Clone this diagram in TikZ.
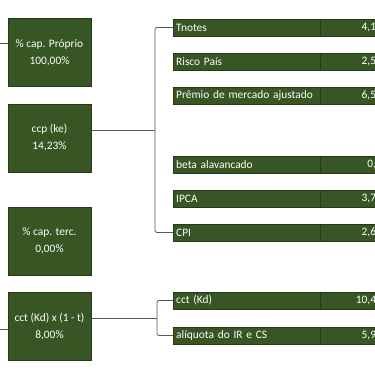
\documentclass[tikz,border=0pt]{standalone}
\usepackage{fontspec}
\setmainfont{Carlito}
\usetikzlibrary{positioning}
\definecolor{cellgreen}{HTML}{375623}
\definecolor{cellline}{HTML}{26391A}

\begin{document}
\begin{tikzpicture}[x=1pt, y=-1pt,
  bigbox/.style={draw=cellline, fill=cellgreen, text=white, minimum width=83pt,
    minimum height=68pt, align=center, font=\fontsize{11.4}{17}\selectfont},
  namecell/.style={draw=cellline, fill=cellgreen, text=white, anchor=west,
    minimum width=147pt, minimum height=17pt, text width=141pt, inner xsep=3pt,
    font=\fontsize{11.4}{12}\selectfont},
  valcell/.style={draw=cellline, fill=cellgreen, text=white, minimum width=57pt,
    minimum height=17pt, text width=54pt, align=right, inner xsep=1pt,
    font=\fontsize{11.4}{12}\selectfont},
  link/.style={draw=black!65, line width=0.8pt, rounded corners=2pt}
]
\useasboundingbox (0,0) rectangle (375,375);
\clip (0,0) rectangle (375,375);

% left column
\node[bigbox] (proprio) at (49.5,52.5) {\% cap. Próprio\\100,00\%};
\node[bigbox] (ke) at (49.5,138) {ccp (ke)\\14,23\%};
\node[bigbox] (terc) at (49.5,241) {\% cap. terc.\\0,00\%};
\node[bigbox] (kd) at (49.5,326.5) {cct (Kd) x (1 - t)\\8,00\%};

% inputs for ke
\node[namecell] (tnotes) at (173,27.5) {Tnotes};
\node[valcell, right=0pt of tnotes] (tnotesv) {4,1};
\node[namecell] (risco) at (173,61.5) {Risco País};
\node[valcell, right=0pt of risco] (riscov) {2,5};
\node[namecell] (premio) at (173,95.5) {Prêmio de mercado ajustado};
\node[valcell, right=0pt of premio] (premiov) {6,5};
\node[namecell] (beta) at (173,164.5) {beta alavancado};
\node[valcell, right=0pt of beta] (betav) {0,};
\node[namecell] (ipca) at (173,198.5) {IPCA};
\node[valcell, right=0pt of ipca] (ipcav) {3,7};
\node[namecell] (cpi) at (173,232.5) {CPI};
\node[valcell, right=0pt of cpi] (cpiv) {2,6};

% inputs for kd
\node[namecell] (cct) at (173,300.5) {cct (Kd)};
\node[valcell, right=0pt of cct] (cctv) {10,4};
\node[namecell] (aliq) at (173,335.5) {alíquota do IR e CS};
\node[valcell, right=0pt of aliq] (aliqv) {5,9};

% connectors
\coordinate (e1) at (0,43);
\coordinate (e4) at (0,329);
\coordinate (jk) at (155,130);
\coordinate (jd) at (157,318);
\draw[link] (proprio.west |- e1) -- (e1);
\draw[link] (kd.west |- e4) -- (e4);
\draw[link] (ke.east |- jk) -- (jk);
\draw[link] (tnotes.west) -| (jk) |- (cpi.west);
\draw[link] (kd.east |- jd) -- (jd);
\draw[link] (cct.west) -| (jd) |- (aliq.west);
\end{tikzpicture}
\end{document}
